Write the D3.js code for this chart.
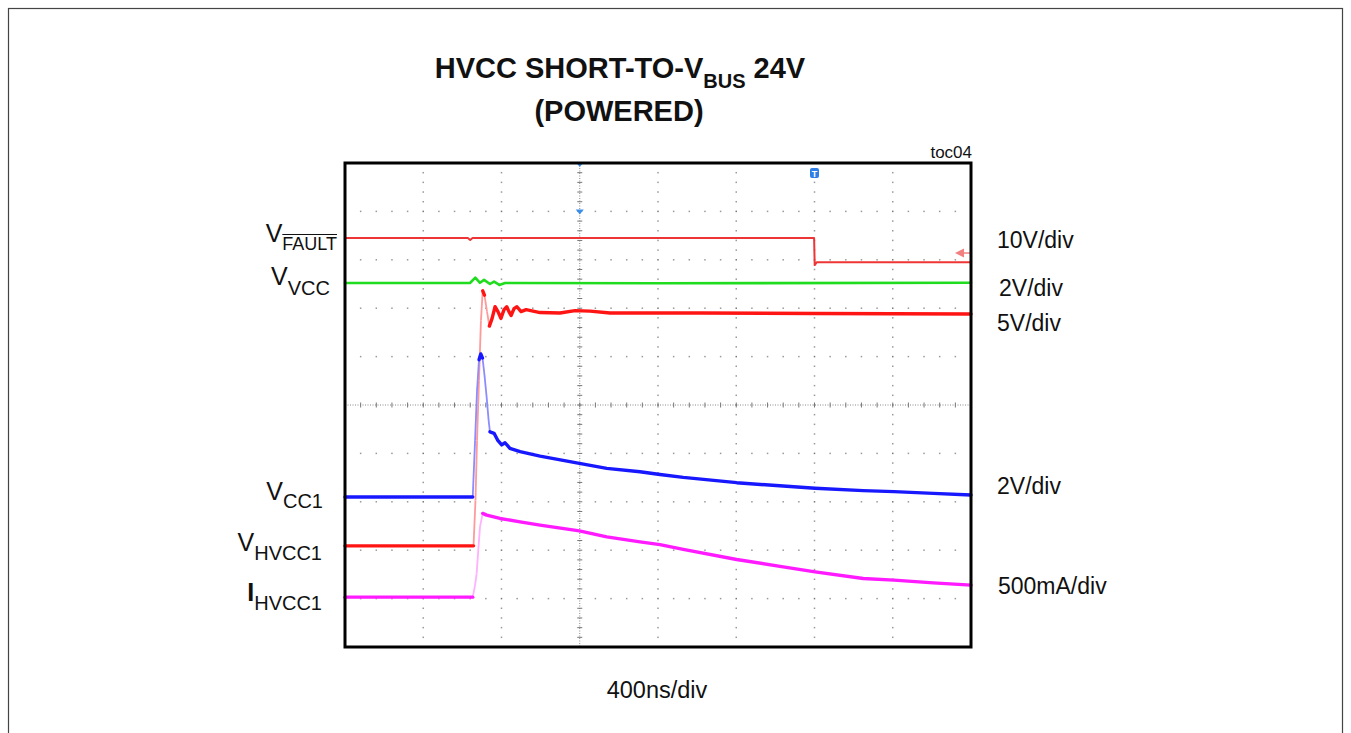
<!DOCTYPE html>
<html>
<head>
<meta charset="utf-8">
<script src="https://cdn.jsdelivr.net/npm/d3@7"></script>
<style>
body { margin: 0; background: #fff; }
svg text { font-family: "Liberation Sans", Arial, sans-serif; fill: #111; }
</style>
</head>
<body>
<script>
// Screen setup
var width = 1351, height = 733;
var nDivX = 8, nDivY = 10;   // scope graticule
var nsPerDiv = 400;

// Traces: [time (ns), value]
var vFault  = [[0, 5.0], [628, 5.0], [640, 4.6], [652, 5.0], [2398, 5.0], [2401, -0.6], [2412, 0.0], [3200, 0.0]];           // V
var vVcc    = [[0, 5.04], [639, 5.04], [666, 5.26], [690, 5.05], [711, 5.17], [741, 5.0], [762, 5.1], [789, 4.96], [818, 5.04], [1600, 5.03], [3200, 5.05]]; // V
var vHvcc1  = [[0, 0.0], [657, 0.0], [667, 4.7], [675, 10.9], [685, 17.1], [695, 23.3], [704, 26.35], [713, 25.9], [726, 24.2],
               [738, 22.7], [752, 23.5], [767, 24.7], [782, 24.2], [797, 23.5], [813, 24.4], [827, 24.7], [838, 24.2], [849, 23.8],
               [864, 24.5], [879, 24.7], [900, 24.2], [926, 24.4], [997, 24.1], [1099, 24.05], [1176, 24.3], [1253, 24.25],
               [1355, 24.05], [1815, 24.05], [2403, 24.0], [3200, 23.95]];                                                   // V
var vCc1    = [[0, 2.02], [653, 2.02], [665, 4.37], [675, 6.44], [685, 7.69], [694, 7.93], [703, 7.76], [713, 7.06], [724, 6.15],
               [734, 5.2], [741, 4.71], [762, 4.65], [780, 4.37], [801, 4.17], [818, 4.26], [843, 4.03], [895, 3.89], [997, 3.71],
               [1198, 3.41], [1338, 3.2], [1508, 3.06], [1610, 2.95], [1729, 2.83], [2002, 2.61], [2240, 2.47], [2403, 2.38],
               [2649, 2.28], [2806, 2.24], [3007, 2.17], [3200, 2.1]];                                                       // V
var iHvcc1  = [[0, 0], [653, 0], [665, 124], [673, 245], [682, 506], [690, 726], [704, 865], [724, 847], [792, 813], [895, 778],
               [997, 744], [1198, 685], [1338, 623], [1508, 571], [1610, 542], [1729, 493], [2002, 389], [2240, 313],
               [2403, 261], [2649, 193], [2806, 176], [3007, 148], [3200, 124]];                                            // mA

// Labels
var leftLabels  = [["V", "FAULT"], ["V", "VCC"], ["V", "CC1"], ["V", "HVCC1"], ["I", "HVCC1"]];
var scaleLabels = ["10V/div", "2V/div", "5V/div", "2V/div", "500mA/div"];

var svg = d3.select("body").append("svg").attr("width", width).attr("height", height);

// page frame
svg.append("rect").attr("x", 8.5).attr("y", 8.5).attr("width", 1334).attr("height", 760)
    .attr("fill", "none").attr("stroke", "#444").attr("stroke-width", 1.2);

var plot = {left: 345, right: 971, top: 163, bottom: 647};

var x = d3.scaleLinear().domain([0, nDivX * nsPerDiv]).range([plot.left, plot.right]);
var yDiv = d3.scaleLinear().domain([0, nDivY]).range([plot.bottom, plot.top]);

// channel setup: zero position (div) and units per div
var channels = [
    {data: vFault, perDiv: 10,  zero: 7.95, color: "#ee3535", w: 2,   fade: false},
    {data: vVcc,   perDiv: 2,   zero: 5.0,  color: "#1fdc1f", w: 2.6, fade: false},
    {data: vHvcc1, perDiv: 5,   zero: 2.09, color: "#ff1414", w: 3.4, fade: true, light: "#ff9a9a"},
    {data: vCc1,   perDiv: 2,   zero: 2.09, color: "#1818ff", w: 3.4, fade: true, light: "#8c8cff"},
    {data: iHvcc1, perDiv: 500, zero: 1.03, color: "#ff1aff", w: 3.4, fade: true, light: "#ffb0ff"}
];

// Graticule
var grid = svg.append("g");
var centerX = 3, centerY = 5;
for (var i = 1; i < nDivX; i++) {
    if (i == centerX) continue;
    for (var k = 1; k < nDivY * 5; k++) {
        grid.append("rect").attr("x", x(i * nsPerDiv) - 0.75).attr("y", yDiv(k / 5) - 0.75)
            .attr("width", 1.5).attr("height", 1.5).attr("fill", k % 5 == 0 ? "#777" : "#999");
    }
}
for (var j = 1; j < nDivY; j++) {
    if (j == centerY) continue;
    for (var k = 1; k < nDivX * 5; k++) {
        if (k % 5 == 0) continue;
        grid.append("rect").attr("x", x(k * nsPerDiv / 5) - 0.75).attr("y", yDiv(j) - 0.75)
            .attr("width", 1.5).attr("height", 1.5).attr("fill", "#999");
    }
}
// center lines with minor ticks
grid.append("line").attr("x1", plot.left).attr("x2", plot.right).attr("y1", yDiv(centerY)).attr("y2", yDiv(centerY))
    .attr("stroke", "#888").attr("stroke-width", 1).attr("stroke-dasharray", "1,1.5");
grid.append("line").attr("x1", x(centerX * nsPerDiv)).attr("x2", x(centerX * nsPerDiv)).attr("y1", plot.top).attr("y2", plot.bottom)
    .attr("stroke", "#888").attr("stroke-width", 1).attr("stroke-dasharray", "1,1.5");
for (var k = 1; k < nDivX * 5; k++) {
    grid.append("line").attr("x1", x(k * nsPerDiv / 5)).attr("x2", x(k * nsPerDiv / 5))
        .attr("y1", yDiv(centerY) - 2.5).attr("y2", yDiv(centerY) + 2.5).attr("stroke", "#777").attr("stroke-width", 1);
}
for (var k = 1; k < nDivY * 5; k++) {
    grid.append("line").attr("y1", yDiv(k / 5)).attr("y2", yDiv(k / 5))
        .attr("x1", x(centerX * nsPerDiv) - 2.5).attr("x2", x(centerX * nsPerDiv) + 2.5).attr("stroke", "#777").attr("stroke-width", 1);
}

// Traces
var line = d3.line().curve(d3.curveLinear);
channels.forEach(function(ch) {
    var pts = ch.data.map(function(d) { return [x(d[0]), yDiv(ch.zero + d[1] / ch.perDiv)]; });
    var runs = [], steep = [], cur = [pts[0]];
    for (var n = 1; n < pts.length; n++) {
        var dx = pts[n][0] - pts[n - 1][0], dy = pts[n][1] - pts[n - 1][1];
        if (ch.fade && Math.abs(dy) > 8 && Math.abs(dy) > 4 * Math.abs(dx)) {
            steep.push([pts[n - 1], pts[n]]);
            runs.push(cur);
            cur = [pts[n]];
        } else {
            cur.push(pts[n]);
        }
    }
    runs.push(cur);
    steep.forEach(function(s) {
        svg.append("path").attr("d", line(s)).attr("fill", "none")
            .attr("stroke", ch.light).attr("stroke-width", 1.8);
    });
    runs.forEach(function(r) {
        if (r.length < 2) return;
        svg.append("path").attr("d", line(r)).attr("fill", "none")
            .attr("stroke", ch.color).attr("stroke-width", ch.w)
            .attr("stroke-linejoin", "round").attr("stroke-linecap", "round");
    });
});

// Markers
var mx = x(centerX * nsPerDiv);
svg.append("path").attr("d", "M" + (mx - 4) + "," + (yDiv(9) - 2) + "h8l-4,5z").attr("fill", "#3a8eea");
svg.append("path").attr("d", "M" + (mx - 2.5) + "," + (plot.top + 1) + "h5l-2.5,3z").attr("fill", "#3a8eea");
var tx = x(2400);
svg.append("rect").attr("x", tx - 4.5).attr("y", 168).attr("width", 9).attr("height", 10).attr("rx", 2)
    .attr("fill", "#2f7fe6");
svg.append("text").attr("x", tx).attr("y", 176.5).attr("text-anchor", "middle")
    .attr("font-size", 9).attr("font-weight", "bold").style("fill", "#fff").text("T");
var ay = yDiv(8.14);
svg.append("path").attr("d", "M" + (plot.right - 16) + "," + ay + "l9,-4.5v9z").attr("fill", "#f28080");
svg.append("line").attr("x1", plot.right - 8).attr("x2", plot.right).attr("y1", ay).attr("y2", ay)
    .attr("stroke", "#f28080").attr("stroke-width", 1.5);

// Frame
svg.append("rect").attr("x", plot.left).attr("y", plot.top)
    .attr("width", plot.right - plot.left).attr("height", plot.bottom - plot.top)
    .attr("fill", "none").attr("stroke", "#000").attr("stroke-width", 3);

// Title
var title = svg.append("text").attr("x", 620).attr("y", 78).attr("text-anchor", "middle")
    .style("font-family", '"Liberation Sans Narrow", "Arial Narrow", sans-serif')
    .attr("font-weight", "bold").attr("font-size", 29);
title.append("tspan").text("HVCC SHORT-TO-V");
title.append("tspan").attr("font-size", 20).attr("dy", 10).text("BUS");
title.append("tspan").attr("dy", -10).text(" 24V");
svg.append("text").attr("x", 619).attr("y", 121).attr("text-anchor", "middle")
    .style("font-family", '"Liberation Sans Narrow", "Arial Narrow", sans-serif')
    .attr("font-weight", "bold").attr("font-size", 29).text("(POWERED)");

svg.append("text").attr("x", 972).attr("y", 158).attr("text-anchor", "end")
    .attr("font-size", 17).text("toc04");

// Left labels
var leftPos = [[337, 242, 250, 18], [330, 285, 295, 20], [323, 500, 508, 20], [322, 551, 560, 20], [322, 601, 610, 20]];
leftLabels.forEach(function(l, idx) {
    var p = leftPos[idx];
    var t = svg.append("text").attr("x", p[0]).attr("y", p[1]).attr("text-anchor", "end");
    t.append("tspan").attr("font-size", 25).attr("font-weight", l[0] == "I" ? "bold" : "normal").text(l[0]);
    var sub = t.append("tspan").attr("font-size", p[3]).attr("dy", p[2] - p[1]).text(l[1]);
    if (l[1] == "FAULT") {
        var bb = sub.node().getBBox();
        svg.append("line").attr("x1", bb.x).attr("x2", bb.x + bb.width)
            .attr("y1", p[2] - 15.5).attr("y2", p[2] - 15.5).attr("stroke", "#111").attr("stroke-width", 1.2);
    }
});

// Right scale labels
var rightPos = [[997, 248], [999, 296], [997, 331], [997, 494], [998, 594]];
scaleLabels.forEach(function(s, idx) {
    svg.append("text").attr("x", rightPos[idx][0]).attr("y", rightPos[idx][1])
        .attr("font-size", 23).text(s);
});

svg.append("text").attr("x", 657).attr("y", 698).attr("text-anchor", "middle")
    .attr("font-size", 23.5).text(nsPerDiv + "ns/div");
</script>
</body>
</html>
